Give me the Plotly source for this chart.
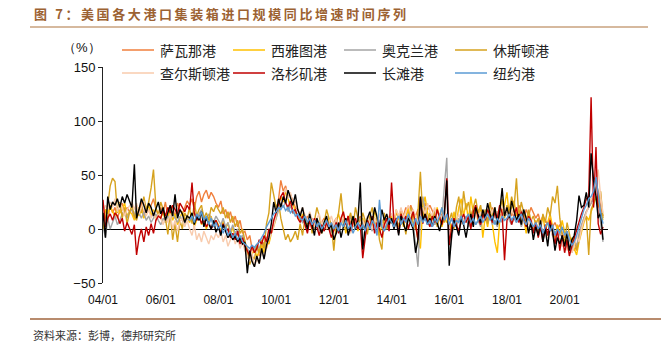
import pandas as pd
import plotly.graph_objects as go

# ---------------- data (monthly YoY %, from 2004-01) ----------------
start_main = "2004-01-01"
start_ny = "2007-01-01"
tick_dates = ["2004-01-01", "2006-01-01", "2008-01-01", "2010-01-01", "2012-01-01",
              "2014-01-01", "2016-01-01", "2018-01-01", "2020-01-01"]
tick_labels = ["04/01", "06/01", "08/01", "10/01", "12/01", "14/01", "16/01", "18/01", "20/01"]

savannah = [
    12, 18, 8, 22, 15, 20, 10, 18, 24, 14, 20, 16,
    18, 10, 22, 15, 25, 12, 20, 16, 22, 28, 18, 14,
    20, 15, 25, 12, 18, 22, 10, 24, 18, 14, 20, 26,
    22, 28, 18, 30, 35, 25, 32, 36, 28, 34, 30, 24,
    20, 26, 14, 18, 10, 16, 6, 12, 2, 8, -4, -2,
    -10, -6, -18, -22, -15, -25, -20, -12, -18, -8, -2, 5,
    15, 28, 45, 35, 40, 30, 32, 25, 20, 18, 12, 10,
    8, 12, 5, 10, 2, 8, 0, 6, 10, 4, 8, 2,
    6, 10, 2, 8, 14, 4, 12, 6, 10, 3, 8, 12,
    2, 8, 5, 12, 6, 10, 4, 14, 8, 2, 10, 6,
    12, 8, 15, 10, 18, 12, 20, 14, 22, 16, 12, 18,
    20, 14, 24, 18, 22, 16, 12, 18, 10, 14, 8, 12,
    6, 2, 10, 4, 8, 12, 6, 10, 14, 8, 12, 16,
    10, 18, 12, 16, 8, 14, 20, 12, 16, 10, 18, 14,
    16, 20, 12, 18, 14, 22, 16, 10, 18, 12, 20, 15,
    10, 14, 6, 12, 8, 4, 10, 2, 6, 0, 4, -4,
    -8, -2, -14, -10, -20, -16, -8, 2, 10, 16, 20, 24,
    30, 42, 35, 20, 12,
]

seattle = [
    10, 18, 14, 22, 16, 12, 20, 15, 18, 24, 12, 16,
    14, 8, 20, 12, 18, 10, 16, 22, 12, 18, 8, 14,
    10, 16, 6, 12, 18, 8, 14, 4, 10, 16, 8, 12,
    6, 12, 2, 8, 14, 4, 10, 0, 6, 12, 2, 8,
    4, -2, 8, 0, 6, -6, 2, -8, -4, -12, -8, -15,
    -20, -28, -24, -18, -26, -20, -15, -22, -10, -14, -4, 2,
    10, 22, 30, 25, 35, 28, 20, 24, 16, 12, 8, 14,
    10, 4, 12, 6, 0, 8, 2, -4, 6, 0, 10, 4,
    -2, 8, 14, 4, 10, -4, 6, 12, 2, 8, -2, 6,
    10, 0, 6, 12, 2, 18, 8, -6, 4, 10, 0, 6,
    12, 4, 18, 8, 14, 2, 10, 20, 6, 14, 4, -10,
    -18, 20, 30, 15, 8, 14, 4, 20, 10, 2, 12, 6,
    10, -4, 16, 6, 20, 28, 12, 24, 8, 30, 14, 20,
    6, 18, -8, 12, 2, 16, 4, -12, -22, 8, 14, 22,
    34, 10, 20, 26, 12, 18, 4, 10, -4, 14, 6, 0,
    8, -6, 4, 12, -2, 6, 14, 2, -8, 4, -4, 8,
    -4, -14, -20, -8, -18, -24, -12, -2, 6, 12, 8, 16,
    22, 30, 26, 14, 8,
]

oakland = [
    2, -8, 10, 0, 6, 12, 4, 8, 14, 18, 10, 16,
    18, 12, 20, 14, 10, 16, 8, 12, 6, 10, 14, 8,
    4, 10, 6, 12, 8, 14, 10, 6, 12, 8, 4, 10,
    8, 12, 16, 10, 14, 18, 12, 8, 14, 10, 6, 12,
    8, 4, 10, 2, 6, -2, 4, -4, 0, -8, -6, -12,
    -18, -22, -15, -20, -14, -18, -12, -16, -8, -10, -2, 4,
    10, 18, 24, 20, 26, 16, 22, 14, 18, 12, 10, 6,
    8, 2, 10, 4, 0, 6, -2, 4, 8, 0, 4, -4,
    2, 8, -2, 4, 10, 0, 6, 12, 2, 8, 4, 10,
    6, 0, 8, 4, -2, 6, 10, 2, 8, 4, 0, 6,
    10, 4, 8, 14, 6, 12, 8, 2, 10, 6, -15, -35,
    10, 30, 18, 10, 6, 12, 4, 8, 14, 10, 40, 66,
    -25, -8, 6, 2, 10, 4, 8, 12, 2, 6, 10, 4,
    8, 2, 10, 14, 6, 12, 4, 8, 2, 10, 6, 12,
    14, 8, 4, 10, 6, 12, 2, 8, 4, 0, 6, -2,
    2, -6, 4, -4, 0, -8, 2, -6, -2, -10, -4, -8,
    -12, -18, -14, -22, -10, -16, -4, 4, 10, 16, 20, 24,
    28, 45, 30, 5, -12,
]

houston = [
    0, 10, 22, 40, 47, 44, 15, 25, 10, 20, 5, 15,
    22, 12, 8, 20, 15, 30, 18, 25, 38, 55, 20, 12,
    25, 18, 10, -5, 15, -10, 5, -12, 8, 0, 15, 10,
    20, 5, 25, 12, 18, 22, 10, 15, 8, 20, 16, 22,
    18, 14, 20, 10, 16, 6, 12, 2, 8, -4, 0, -10,
    -20, -33, -25, -28, -15, -22, -10, -18, 5, 15, 43, 30,
    20, 25, 10, 0, -10, -5, -12, -8, -2, -10, 5, -6,
    10, 2, 15, -4, 8, 20, 12, 0, 6, 18, 10, 4,
    -20, 5, 15, 33, 10, 0, 8, 15, 2, 20, 10, 5,
    15, 8, -5, 12, 20, 4, 10, -10, -19, 15, 0, 12,
    5, 8, 10, 2, 15, 8, -5, 12, 20, 6, 0, 15,
    53, 10, 20, 5, 15, 8, 18, 2, 12, 20, 6, 14,
    8, 15, 0, 20, 30, 10, 35, 18, 25, 12, 20, 28,
    15, 22, 10, 18, 5, 25, 12, 20, 8, 16, 28, 10,
    22, 18, 30, 20, 47, 10, 25, 15, 5, 18, 8, 12,
    4, 10, -2, 14, 6, 20, 12, 30, 24, 40, 10, -6,
    -12, 6, -4, -15, -8, -20, -10, 0, 8, 12, -24, 18,
    25, 30, 20, 35, 10,
]

charleston = [
    15, 22, 18, 25, 20, 28, 16, 24, 20, 12, 18, 22,
    25, 18, 24, 14, 20, 26, 12, 18, 10, 16, 8, 14,
    10, 4, 12, 6, 14, 0, 8, -2, 6, 10, 2, 8,
    0, -6, 4, -10, -4, -12, -2, -8, -14, -6, -10, -4,
    -8, -2, -12, -6, -16, -10, -4, -14, -8, -18, -12, -20,
    -25, -30, -22, -35, -28, -32, -20, -26, -15, -10, -4, 2,
    12, 25, 20, 30, 38, 28, 34, 22, 26, 18, 14, 20,
    12, 6, 16, 8, 2, 10, 14, 4, 8, 0, 6, 12,
    4, 10, 0, 6, 12, 2, 8, -4, 4, 10, 2, 6,
    8, 2, 12, 6, 0, 10, 4, 14, 6, 2, 8, 12,
    14, 8, 18, 12, 20, 10, 16, 22, 14, 18, 12, 6,
    10, 20, 14, 24, 16, 12, 20, 8, 14, 10, 16, 12,
    6, 10, 2, 8, 14, 4, 10, 6, 12, 2, 8, 14,
    10, 16, 8, 14, 20, 12, 18, 10, 16, 8, 14, 20,
    16, 10, 18, 12, 20, 8, 14, 6, 12, 4, 10, 2,
    6, 0, 8, -4, 2, -8, 0, -6, -12, -4, -10, -16,
    -14, -20, -10, -22, -16, -6, -12, 0, 8, 14, 22, 28,
    30, 45, 55, 30, 15,
]

los_angeles = [
    27, 2, 10, 14, 8, 15, 12, 5, 10, -2, 6, 0,
    -5, 4, -24, -8, 0, -12, 2, -6, 5, -4, 8, 12,
    10, 18, 12, 20, 15, 22, 18, 14, 24, 20, 16, 22,
    18, 43, 15, 8, 12, 5, 10, 2, 6, 0, 4, 8,
    2, -4, 5, -2, 0, -8, -4, -10, -2, -14, -8, -16,
    -20, -25, -15, -22, -18, -10, -14, -6, -12, 0, -4, 8,
    15, 22, 30, 34, 24, 20, 26, 16, 18, 10, 6, 12,
    4, -4, 8, 0, 10, 2, -6, 4, -2, 6, 0, -8,
    0, 6, -4, 10, 16, 4, 12, -2, 6, 10, 0, 4,
    -27, -10, 8, 2, 12, -4, 6, 0, -8, 4, 10, -2,
    43, 5, 10, -4, 14, 6, 12, 0, 8, 16, 4, -10,
    29, 5, 14, 8, 2, 12, 6, 18, 10, 4, 14, 47,
    -15, 2, 10, 4, -2, 8, 14, 6, 12, 0, 16, 22,
    10, 4, 14, 8, 18, 12, 6, 16, 10, 22, 15, -29,
    8, 14, 4, 12, 20, 6, 16, 10, 2, 12, 8, -4,
    6, -8, 2, -12, 4, -6, 8, -2, -14, 0, -20, -6,
    -22, -10, -25, -16, -8, -2, 6, 14, 20, 28, 30, 122,
    20, 76, 5, -5, 2,
]

long_beach = [
    15, -8, 30, 18, 25, 22, 28, 20, 30, 24, 32, 26,
    20, 60, 10, 18, 28, 22, 15, 24, 20, 12, 18, 25,
    14, 20, 8, 16, 22, 12, 32, 10, 18, 14, 6, 12,
    10, 15, 4, 12, 8, 16, 2, 10, 5, 0, 8, -3,
    2, -6, 4, -2, -8, -4, -10, -6, -12, -8, -14, -12,
    -41, -20, -30, -35, -25, -32, -18, -28, -15, -8, 5, 25,
    15, 28, 20, 30, 24, 36, 28, 22, 32, 18, 12, 20,
    8, 0, 14, 4, -6, 10, 2, -4, 6, 12, 0, 4,
    -10, -4, 6, -8, 2, 10, -6, 4, 12, 0, 8, 43,
    -19, 2, 10, 16, 6, 20, 12, 2, 18, 8, 14, 4,
    10, 0, 8, -6, 12, 4, -2, 10, 6, 0, -22, -10,
    30, 8, 14, 4, 10, 2, 12, 6, -2, 8, 15, 45,
    -34, -5, 8, 2, -6, 10, 4, -8, 6, 14, 2, 20,
    12, 6, 18, 10, 24, 14, 8, 20, 4, 16, 38, 12,
    20, 10, 26, 16, 8, 14, 4, 18, 10, -4, 6, -10,
    2, -6, 8, -12, 0, -16, 4, -2, -20, -8, -14, -6,
    -16, -4, -20, -10, -6, 8, 31, 20, 22, 34, 20, 70,
    45, 30, 10, 15, -10,
]

new_york = [
    8, 12, 6, 14, 10, 16, 8, 12, 4, 10, 2, 6,
    0, 4, -4, 2, -6, -2, -8, -4, -10, -6, -12, -14,
    -16, -18, -15, -17, -14, -12, -8, -4, 2, 6, 10, 14,
    16, 20, 18, 22, 17, 20, 15, 18, 12, 14, 10, 8,
    12, 6, 10, 4, 8, 2, 6, 0, 4, 8, 2, 6,
    0, 4, -2, 6, 2, 8, 0, 4, -4, 2, 6, 0,
    4, -2, 6, 0, 8, 4, -6, 27, 2, -2, 4, 10,
    6, 2, 8, 12, 4, 10, 6, 14, 8, 2, 10, 4,
    12, 6, 10, 4, 8, 2, 10, 6, 12, 20, 8, 14,
    4, 10, 2, 8, 6, 12, 4, 10, 14, 6, 10, 4,
    8, 12, 6, 10, 14, 8, 12, 4, 10, 6, 12, 8,
    10, 14, 8, 12, 6, 10, 14, 8, 4, 10, 6, 2,
    6, 0, 4, -4, 2, 6, -2, 4, -6, 0, -4, 2,
    -6, -2, -10, -15, -12, -6, 2, 10, 18, 22, 28, 30,
    35, 48, 30, 15, 5,
]

names = ["萨瓦那港", "西雅图港", "奥克兰港", "休斯顿港",
         "查尔斯顿港", "洛杉矶港", "长滩港", "纽约港"]
series = [savannah, seattle, oakland, houston, charleston, los_angeles, long_beach, new_york]
starts = [start_main] * 7 + [start_ny]
colors = ["#F07F3C", "#FFC000", "#A5A5A5", "#D6A21E",
          "#F8CBAD", "#C00000", "#000000", "#5B9BD5"]

title_text = "图 7：美国各大港口集装箱进口规模同比增速时间序列"
source_text = "资料来源：彭博，德邦研究所"

# ---------------- figure ----------------
W, H = 661, 351
L, R, T, B = 103, 53, 67, 68
PW, PH = W - L - R, H - T - B


def px(x, y):
    return (x - L) / PW, (H - B - y) / PH


def spaced(s, sep):
    return sep.join(list(s))


CJK = "Noto Sans CJK SC, sans-serif"
NUM = "Liberation Sans, Arial, sans-serif"

fig = go.Figure()
for name, vals, st, col in zip(names, series, starts, colors):
    dates = pd.date_range(st, periods=len(vals), freq="MS")
    fig.add_trace(go.Scatter(x=dates, y=vals, mode="lines", name=name,
                             line=dict(color=col, width=1.4), showlegend=False))

fig.update_layout(
    width=W, height=H,
    margin=dict(l=L, r=R, t=T, b=B),
    paper_bgcolor="white", plot_bgcolor="white",
    font=dict(family=NUM, size=12, color="#000"),
)
fig.update_xaxes(type="date", range=["2004-01-01", "2021-07-03"],
                 tickvals=tick_dates, ticktext=tick_labels,
                 showgrid=False, showline=False, zeroline=False, ticks="",
                 tickfont=dict(family=NUM, size=12, color="#111"),
                 ticklabelstandoff=8)
fig.update_yaxes(range=[-50, 150], tickvals=[-50, 0, 50, 100, 150],
                 ticktext=["−50", "0", "50", "100", "150"],
                 showgrid=False, showline=True, linecolor="#222", linewidth=1,
                 ticks="outside", ticklen=4, tickcolor="#222",
                 zeroline=True, zerolinecolor="#000", zerolinewidth=1.2,
                 tickfont=dict(family=NUM, size=13, color="#111"))

shapes = []
annotations = []

# title + rules
tx, ty = px(32, 13)
annotations.append(dict(text="<b>" + spaced(title_text, "\u2009") + "</b>",
                        x=tx, y=ty, xref="paper", yref="paper", xanchor="left", yanchor="middle",
                        showarrow=False, font=dict(family=CJK, size=13, color="#9C6232")))
x0, y0 = px(30, 27)
x1, _ = px(648, 27)
shapes.append(dict(type="line", xref="paper", yref="paper", x0=x0, x1=x1, y0=y0, y1=y0,
                   line=dict(color="#C9A27E", width=1.5)))
x0, y0 = px(30, 319)
x1, _ = px(661, 319)
shapes.append(dict(type="line", xref="paper", yref="paper", x0=x0, x1=x1, y0=y0, y1=y0,
                   line=dict(color="#A0643C", width=1.5)))
fx, fy = px(31, 335)
annotations.append(dict(text=source_text, x=fx, y=fy, xref="paper", yref="paper",
                        xanchor="left", yanchor="middle", showarrow=False,
                        font=dict(family=CJK, size=11, color="#333")))
ux, uy = px(82, 47)
annotations.append(dict(text="（%）", x=ux, y=uy, xref="paper", yref="paper",
                        xanchor="center", yanchor="middle", showarrow=False,
                        font=dict(family=NUM, size=13, color="#111")))

# legend (manual, 2 rows x 4 columns)
col_x = [122, 233, 344, 455]
row_y = [50, 73]
for i, (name, col) in enumerate(zip(names, colors)):
    r, c = divmod(i, 4)
    lx0, ly = px(col_x[c], row_y[r])
    lx1, _ = px(col_x[c] + 32, row_y[r])
    shapes.append(dict(type="line", xref="paper", yref="paper", x0=lx0, x1=lx1, y0=ly, y1=ly,
                       line=dict(color=col, width=1.5)))
    tx2, _ = px(col_x[c] + 36, row_y[r])
    annotations.append(dict(text=name, x=tx2, y=ly, xref="paper", yref="paper",
                            xanchor="left", yanchor="middle", showarrow=False,
                            font=dict(family=CJK, size=14, color="#222")))

fig.update_layout(shapes=shapes, annotations=annotations)
fig.write_html("out.html")
